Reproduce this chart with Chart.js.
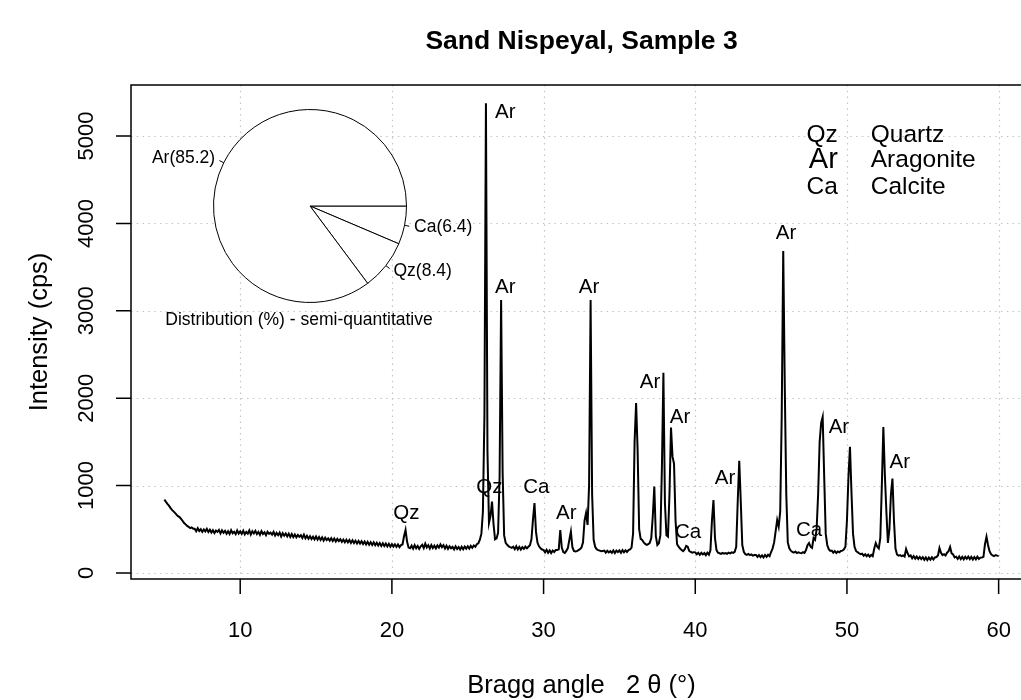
<!DOCTYPE html>
<html>
<head>
<meta charset="utf-8">
<title>Sand Nispeyal, Sample 3</title>
<script src="https://cdn.jsdelivr.net/npm/chart.js@4.4.1/dist/chart.umd.min.js"></script>
<style>
  html, body { margin: 0; padding: 0; background: #fff; overflow: hidden; }
  #wrap { position: relative; width: 1021px; height: 700px; overflow: hidden; }
  #xrd { position: absolute; left: 0; top: 0; }
  #pie { position: absolute; left: 110px; top: 76px; }
</style>
</head>
<body>
<div id="wrap">
  <canvas id="xrd" width="1050" height="700"></canvas>
  <canvas id="pie" width="400" height="260"></canvas>
</div>
<script>
// Diffractogram: scan from 5.0 to 60.0 deg 2theta, 0.1 deg step (one row per degree)
const scanStart = 5.0;
const scanStep = 0.1;
const counts = [
  840, 815, 790, 770, 745, 722, 705, 688, 668, 650,      // 5
  640, 618, 596, 572, 556, 538, 528, 514, 522, 506,      // 6
  505, 478, 512, 480, 500, 470, 498, 476, 505, 468,      // 7
  494, 462, 490, 458, 485, 470, 492, 452, 488, 460,      // 8
  482, 450, 478, 446, 490, 455, 472, 444, 486, 452,      // 9
  476, 448, 484, 442, 470, 450, 488, 440, 478, 452,      // 10
  482, 446, 470, 436, 478, 445, 465, 432, 472, 448,      // 11
  462, 438, 470, 428, 458, 432, 462, 418, 455, 426,      // 12
  452, 418, 450, 412, 446, 410, 440, 408, 436, 415,      // 13
  432, 400, 438, 396, 425, 392, 420, 388, 415, 384,      // 14
  418, 382, 412, 378, 408, 372, 404, 376, 396, 370,      // 15
  398, 366, 394, 360, 390, 364, 386, 356, 382, 352,      // 16
  380, 350, 378, 344, 374, 342, 370, 338, 366, 336,      // 17
  364, 332, 360, 326, 356, 324, 352, 320, 350, 318,      // 18
  346, 314, 342, 310, 340, 308, 336, 304, 334, 300,      // 19
  330, 302, 328, 298, 326, 296, 318, 326, 420, 492,      // 20
  360, 290, 282, 312, 278, 318, 284, 310, 276, 305,      // 21
  322, 284, 335, 292, 318, 280, 320, 286, 312, 282,      // 22
  315, 290, 326, 296, 318, 280, 312, 276, 305, 282,      // 23
  298, 270, 305, 274, 296, 268, 300, 272, 302, 278,      // 24
  306, 280, 310, 288, 314, 300, 330, 340, 380, 450,      // 25
  700, 1800, 5374, 1400, 572, 650, 816, 560, 385, 395,   // 26
  460, 1100, 3124, 1150, 430, 345, 322, 305, 296, 288,   // 27
  300, 272, 305, 270, 298, 268, 296, 276, 302, 282,      // 28
  300, 318, 385, 610, 800, 470, 345, 305, 282, 268,      // 29
  262, 236, 266, 232, 258, 228, 256, 240, 262, 262,      // 30
  270, 492, 290, 240, 229, 252, 285, 380, 473, 295,      // 31
  252, 246, 250, 262, 272, 292, 350, 600, 686, 549,      // 32
  1000, 3124, 900, 380, 300, 272, 262, 255, 248, 252,    // 33
  256, 232, 254, 236, 250, 230, 258, 228, 256, 240,      // 34
  258, 230, 262, 236, 260, 240, 262, 270, 290, 450,      // 35
  1500, 1945, 1400, 500, 390, 377, 350, 332, 322, 330,   // 36
  345, 400, 650, 988, 420, 320, 340, 430, 1200, 2292,    // 37
  800, 430, 415, 900, 1663, 1331, 1250, 600, 330, 300,   // 38
  280, 262, 250, 268, 310, 300, 252, 240, 232, 238,      // 39
  236, 214, 232, 208, 230, 212, 228, 204, 232, 210,      // 40
  260, 600, 835, 400, 262, 232, 226, 218, 230, 222,      // 41
  228, 220, 232, 224, 236, 230, 242, 300, 820, 1285,     // 42
  816, 320, 242, 215, 208, 218, 204, 212, 198, 206,      // 43
  206, 184, 204, 182, 202, 178, 206, 184, 208, 192,      // 44
  240, 282, 350, 480, 606, 530, 700, 1800, 3684, 2151,   // 45
  900, 350, 282, 255, 240, 232, 245, 228, 236, 230,      // 46
  226, 238, 230, 262, 318, 343, 300, 286, 400, 380,      // 47
  500, 900, 1500, 1716, 1785, 1100, 450, 320, 272, 252,  // 48
  256, 232, 250, 228, 246, 236, 252, 255, 270, 300,      // 49
  600, 1100, 1445, 915, 450, 300, 252, 238, 226, 215,    // 50
  220, 198, 214, 192, 210, 186, 206, 192, 280, 343,      // 51
  300, 280, 400, 1000, 1670, 1121, 700, 343, 500, 900,   // 52
  1080, 600, 280, 212, 198, 205, 192, 200, 188, 275,     // 53
  226, 190, 200, 168, 194, 164, 188, 160, 184, 158,      // 54
  180, 150, 178, 148, 176, 152, 180, 155, 178, 182,      // 55
  200, 286, 230, 205, 215, 200, 232, 250, 298, 225,      // 56
  212, 178, 186, 160, 188, 158, 184, 156, 186, 162,      // 57
  188, 158, 184, 154, 182, 156, 186, 160, 176, 178,      // 58
  185, 330, 415, 320, 250, 215, 200, 192, 205, 198,      // 59
  194                                                    // 60
];

// axes
const xTickValues = [10, 20, 30, 40, 50, 60];
const yTickValues = [0, 1000, 2000, 3000, 4000, 5000];

// peak identification labels (text centre in 2theta / cps)
const peakTexts = ['Qz', 'Ar', 'Ar', 'Ar', 'Qz', 'Ca', 'Ar', 'Ar', 'Ar', 'Ca', 'Ar', 'Ar', 'Ca', 'Ar', 'Ar'];
const peakTextAngle = [20.96, 27.48, 27.48, 33.0, 26.43, 29.52, 31.5, 37.02, 39.0, 39.52, 41.96, 45.98, 47.5, 49.47, 53.48];
const peakTextCps = [686, 5275, 3272, 3272, 984, 984, 686, 2185, 1785, 469, 1087, 3890, 492, 1670, 1270];

// phase key
const phaseCodes = ['Qz', 'Ar', 'Ca'];
const phaseNames = ['Quartz', 'Aragonite', 'Calcite'];

// semi-quantitative distribution (%)
const pieLabels = ['Ca', 'Qz', 'Ar'];
const pieShares = [6.4, 8.4, 85.2];

const FONT = '"Liberation Sans", Arial, Helvetica, sans-serif';

/**
 * R風の軸・グリッド・注記を描く
 */
const rStyle = {
    id: 'rStyle',
    beforeDraw(chart) {
        const ctx = chart.ctx;
        ctx.save();
        ctx.fillStyle = '#fff';
        ctx.fillRect(0, 0, chart.width, chart.height);
        ctx.restore();
    },
    beforeDatasetsDraw(chart) {
        const { ctx, chartArea: a, scales: { x, y } } = chart;
        ctx.save();
        ctx.strokeStyle = '#c4c4c4';
        ctx.lineWidth = 1.2;
        ctx.setLineDash([1.5, 4.3]);
        xTickValues.forEach(v => {
            const px = Math.round(x.getPixelForValue(v)) + 0.5;
            ctx.beginPath();
            ctx.moveTo(px, a.top);
            ctx.lineTo(px, a.bottom);
            ctx.stroke();
        });
        yTickValues.forEach(v => {
            const py = Math.round(y.getPixelForValue(v)) + 0.5;
            ctx.beginPath();
            ctx.moveTo(a.left, py);
            ctx.lineTo(a.right, py);
            ctx.stroke();
        });
        ctx.restore();
    },
    afterDatasetsDraw(chart) {
        const { ctx, chartArea: a, scales: { x, y } } = chart;
        ctx.save();
        ctx.strokeStyle = '#000';
        ctx.fillStyle = '#000';
        ctx.lineWidth = 1.5;
        ctx.setLineDash([]);

        // box
        ctx.strokeRect(a.left, a.top, a.right - a.left, a.bottom - a.top);

        // ticks
        const tick = 15;
        ctx.beginPath();
        xTickValues.forEach(v => {
            const px = x.getPixelForValue(v);
            ctx.moveTo(px, a.bottom);
            ctx.lineTo(px, a.bottom + tick);
        });
        yTickValues.forEach(v => {
            const py = y.getPixelForValue(v);
            ctx.moveTo(a.left, py);
            ctx.lineTo(a.left - tick, py);
        });
        ctx.stroke();

        // tick labels
        ctx.font = `22px ${FONT}`;
        ctx.textAlign = 'center';
        ctx.textBaseline = 'middle';
        xTickValues.forEach(v => ctx.fillText(String(v), x.getPixelForValue(v), 631));
        yTickValues.forEach(v => {
            ctx.save();
            ctx.translate(87, y.getPixelForValue(v));
            ctx.rotate(-Math.PI / 2);
            ctx.fillText(String(v), 0, 0);
            ctx.restore();
        });

        // axis titles
        ctx.font = `25.5px ${FONT}`;
        ctx.fillText('Bragg angle   2 \u03b8 (\u00b0)', (a.left + a.right) / 2, 686);
        ctx.save();
        ctx.translate(40, (a.top + a.bottom) / 2);
        ctx.rotate(-Math.PI / 2);
        ctx.fillText('Intensity (cps)', 0, 0);
        ctx.restore();

        // main title
        ctx.font = `bold 26.5px ${FONT}`;
        ctx.fillText('Sand Nispeyal, Sample 3', (a.left + a.right) / 2, 42);

        // peak labels
        ctx.font = `20.5px ${FONT}`;
        peakTexts.forEach((t, i) => {
            ctx.fillText(t, x.getPixelForValue(peakTextAngle[i]), y.getPixelForValue(peakTextCps[i]));
        });

        // phase key
        const keyCps = [5010, 4725, 4415];
        phaseCodes.forEach((c, i) => {
            const py = y.getPixelForValue(keyCps[i]);
            ctx.font = (c === 'Ar' ? '29px ' : '24.5px ') + FONT;
            ctx.textAlign = 'right';
            ctx.fillText(c, x.getPixelForValue(49.4), py);
            ctx.font = `24.5px ${FONT}`;
            ctx.textAlign = 'left';
            ctx.fillText(phaseNames[i], x.getPixelForValue(51.57), py);
        });
        ctx.restore();
    }
};

const points = counts.map((c, i) => ({ x: +(scanStart + i * scanStep).toFixed(2), y: c }));

new Chart(document.getElementById('xrd').getContext('2d'), {
    type: 'line',
    data: {
        datasets: [{
            data: points,
            borderColor: '#000',
            borderWidth: 2,
            pointRadius: 0,
            tension: 0,
            fill: false
        }]
    },
    options: {
        responsive: false,
        animation: false,
        events: [],
        layout: { padding: { left: 131, top: 85, right: 18, bottom: 121 } },
        plugins: {
            legend: { display: false },
            tooltip: { enabled: false },
            title: { display: false }
        },
        scales: {
            x: { type: 'linear', min: 2.8, max: 62.2, display: false },
            y: { type: 'linear', min: -69, max: 5584, display: false }
        }
    },
    plugins: [rStyle]
});

/**
 * 円グラフのラベル（R の pie と同じ配置）
 */
const pieText = {
    id: 'pieText',
    afterDatasetsDraw(chart) {
        const ctx = chart.ctx;
        const arcs = chart.getDatasetMeta(0).data;
        ctx.save();
        ctx.strokeStyle = '#000';
        ctx.fillStyle = '#000';
        ctx.lineWidth = 1;
        ctx.font = `17.5px ${FONT}`;
        ctx.textBaseline = 'middle';
        let cx = 0, cy = 0;
        arcs.forEach((arc, i) => {
            const mid = (arc.startAngle + arc.endAngle) / 2;
            const r = arc.outerRadius;
            const c = Math.cos(mid), s = Math.sin(mid);
            cx = arc.x; cy = arc.y;
            ctx.beginPath();
            ctx.moveTo(arc.x + r * c, arc.y + r * s);
            ctx.lineTo(arc.x + 1.05 * r * c, arc.y + 1.05 * r * s);
            ctx.stroke();
            ctx.textAlign = c < 0 ? 'right' : 'left';
            ctx.fillText(`${pieLabels[i]}(${pieShares[i]})`, arc.x + 1.1 * r * c, arc.y + 1.1 * r * s);
        });
        ctx.textAlign = 'center';
        ctx.fillText('Distribution (%) - semi-quantitative', cx - 11, cy + 114);
        ctx.restore();
    }
};

new Chart(document.getElementById('pie').getContext('2d'), {
    type: 'pie',
    data: {
        labels: pieLabels,
        datasets: [{
            data: pieShares,
            backgroundColor: '#fff',
            borderColor: '#000',
            borderWidth: 1
        }]
    },
    options: {
        responsive: false,
        animation: false,
        events: [],
        rotation: 90,
        radius: 96.5,
        layout: { padding: 0 },
        plugins: {
            legend: { display: false },
            tooltip: { enabled: false }
        }
    },
    plugins: [pieText]
});
</script>
</body>
</html>
